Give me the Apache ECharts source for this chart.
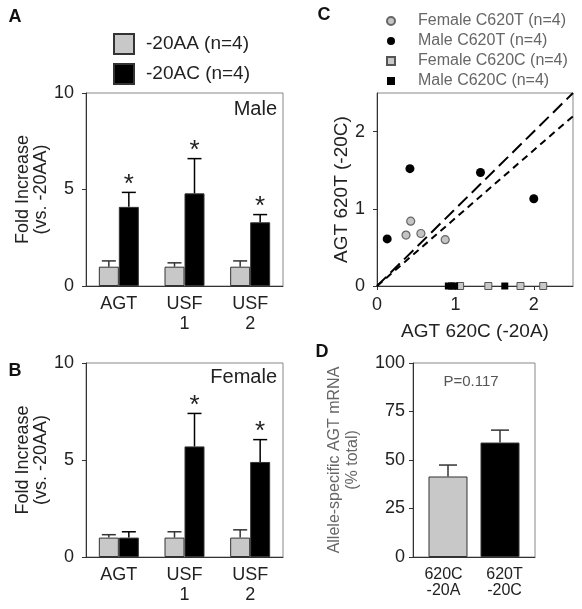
<!DOCTYPE html>
<html><head><meta charset="utf-8">
<script src="https://cdn.jsdelivr.net/npm/echarts@6/dist/echarts.min.js"></script>
<style>html,body{margin:0;padding:0;background:#fff}#c{width:582px;height:609px}</style>
</head><body><div id="c"></div><script>
// ---- data ----
const genes = ['AGT', 'USF\n1', 'USF\n2'];
const maleAA = [1.0, 1.0, 1.0];
const maleAAsem = [0.3, 0.2, 0.3];
const maleAC = [4.1, 4.8, 3.3];
const maleACsem = [0.75, 1.8, 0.4];
const maleACsig = [1, 1, 1];
const femAA = [1.0, 1.0, 1.0];
const femAAsem = [0.15, 0.3, 0.4];
const femAC = [1.0, 5.7, 4.9];
const femACsem = [0.3, 1.7, 1.15];
const femACsig = [0, 1, 1];
const femC620T = [[0.37, 0.66], [0.43, 0.84], [0.56, 0.68], [0.87, 0.60]];
const maleC620T = [[0.13, 0.61], [0.42, 1.52], [1.32, 1.47], [2.0, 1.13]];
const femC620C = [[1.06, 0], [1.42, 0], [1.83, 0], [2.12, 0]];
const maleC620C = [[0.91, 0], [0.95, 0], [0.99, 0], [1.63, 0]];
const identityLine = [[0, 0], [2.5, 2.5]];
const fitLine = [[0, 0], [2.5, 2.2]];
const alleles = ['620C\n-20A', '620T\n-20C'];
const allele20A = [41.5, '-'];
const allele20Asem = [5.9, 0];
const allele20C = ['-', 59];
const allele20Csem = [0, 6.4];
const pText = 'P=0.117';

// ---- styles ----
const FF = '"Liberation Sans", Arial, sans-serif';
const GRAY = '#c8c8c8';
const BLACK = '#000';
const axisLine = { lineStyle: { color: '#333', width: 1 } };
const tick = { show: true, length: 4, inside: false, lineStyle: { color: '#333' } };
const gridStyle = { show: true, borderColor: '#888', borderWidth: 1, backgroundColor: 'transparent', containLabel: false };

function errSeries(gi, means, sems, sigs, offset, cap, color) {
  const data = [];
  means.forEach((m, i) => { if (m !== '-') data.push([i, m, m + sems[i], sigs ? sigs[i] : 0]); });
  return {
    type: 'custom', xAxisIndex: gi, yAxisIndex: gi, z: 5, silent: true,
    data: data,
    renderItem(params, api) {
      const b = api.coord([api.value(0), api.value(1)]);
      const t = api.coord([api.value(0), api.value(2)]);
      const x = b[0] + offset;
      const ch = [
        { type: 'line', shape: { x1: x, y1: b[1], x2: x, y2: t[1] }, style: { stroke: color, lineWidth: 1.5 } },
        { type: 'line', shape: { x1: x - cap / 2, y1: t[1], x2: x + cap / 2, y2: t[1] }, style: { stroke: color, lineWidth: 1.5 } }
      ];
      if (api.value(3)) ch.push({ type: 'text', style: { text: '*', x: x, y: t[1] - 8, align: 'center', verticalAlign: 'middle', textAlign: 'center', textVerticalAlign: 'middle', fontSize: 26, fontFamily: FF, fill: '#222' } });
      return { type: 'group', children: ch };
    }
  };
}

function foldY(gi) {
  return {
    gridIndex: gi, type: 'value', min: 0, max: 10, interval: 5,
    axisLine: Object.assign({ show: true }, axisLine), axisTick: tick, splitLine: { show: false },
    axisLabel: { fontSize: 18, color: '#222', fontFamily: FF, margin: 12 },
    name: 'Fold Increase\n(vs. -20AA)', nameLocation: 'middle', nameGap: 36, nameRotate: 90,
    nameTextStyle: { fontSize: 18, lineHeight: 18, color: '#222', fontFamily: FF }
  };
}
function geneX(gi) {
  return {
    gridIndex: gi, type: 'category', data: genes,
    axisLine: axisLine, axisTick: { show: false },
    axisLabel: { fontSize: 18, lineHeight: 20, color: '#222', fontFamily: FF, margin: 8 }
  };
}
function bar(gi, name, data, color) {
  return { type: 'bar', name: name, xAxisIndex: gi, yAxisIndex: gi, data: data, barWidth: 20, barGap: '0%',
    itemStyle: { color: color, borderColor: '#333', borderWidth: 1 } };
}

const option = {
  animation: false,
  textStyle: { fontFamily: FF },
  grid: [
    Object.assign({ left: 86, top: 93, width: 197, height: 193 }, gridStyle),
    Object.assign({ left: 86, top: 363, width: 197, height: 194 }, gridStyle),
    Object.assign({ left: 377, top: 93, width: 196, height: 193 }, gridStyle),
    Object.assign({ left: 413, top: 363, width: 122, height: 194 }, gridStyle)
  ],
  xAxis: [
    geneX(0), geneX(1),
    { gridIndex: 2, type: 'value', min: 0, max: 2.5, interval: 1,
      axisLine: axisLine, axisTick: tick, splitLine: { show: false },
      axisLabel: { fontSize: 18, color: '#222', fontFamily: FF, margin: 10, showMaxLabel: false },
      name: 'AGT 620C (-20A)', nameLocation: 'middle', nameGap: 36,
      nameTextStyle: { fontSize: 19, color: '#222', fontFamily: FF } },
    { gridIndex: 3, type: 'category', data: alleles,
      axisLine: axisLine, axisTick: { show: false },
      axisLabel: { fontSize: 16, lineHeight: 16, color: '#222', fontFamily: FF, margin: 10 } }
  ],
  yAxis: [
    foldY(0), foldY(1),
    { gridIndex: 2, type: 'value', min: 0, max: 2.5, interval: 1,
      axisLine: Object.assign({ show: true }, axisLine), axisTick: tick, splitLine: { show: false },
      axisLabel: { fontSize: 18, color: '#222', fontFamily: FF, margin: 12, showMaxLabel: false },
      name: 'AGT 620T (-20C)', nameLocation: 'middle', nameGap: 25, nameRotate: 90,
      nameTextStyle: { fontSize: 19, color: '#222', fontFamily: FF } },
    { gridIndex: 3, type: 'value', min: 0, max: 100, interval: 25,
      axisLine: Object.assign({ show: true }, axisLine), axisTick: tick, splitLine: { show: false },
      axisLabel: { fontSize: 18, color: '#222', fontFamily: FF, margin: 8 },
      name: 'Allele-specific AGT mRNA\n(% total)', nameLocation: 'middle', nameGap: 51, nameRotate: 90,
      nameTextStyle: { fontSize: 16, lineHeight: 18, color: '#666', fontFamily: FF } }
  ],
  legend: [
    { left: 113, top: 33, orient: 'vertical', padding: 0, itemWidth: 20, itemHeight: 20, itemGap: 8,
      selectedMode: false, icon: 'rect',
      data: ['-20AA (n=4)', '-20AC (n=4)'],
      textStyle: { fontSize: 19, color: '#222', fontFamily: FF, padding: [0, 0, 0, 7] } },
    { left: 386, top: 13, orient: 'vertical', padding: 0, itemWidth: 8, itemHeight: 8, itemGap: 4,
      selectedMode: false,
      data: [{ name: 'Female C620T (n=4)', icon: 'circle' }, { name: 'Male C620T (n=4)', icon: 'circle' },
             { name: 'Female C620C (n=4)', icon: 'rect' }, { name: 'Male C620C (n=4)', icon: 'rect' }],
      textStyle: { fontSize: 16, lineHeight: 16, color: '#666', fontFamily: FF, padding: [0, 0, 0, 18] } }
  ],
  series: [
    bar(0, '-20AA (n=4)', maleAA, GRAY),
    bar(0, '-20AC (n=4)', maleAC, BLACK),
    errSeries(0, maleAA, maleAAsem, null, -10, 14, '#333'),
    errSeries(0, maleAC, maleACsem, maleACsig, 10, 14, '#000'),
    bar(1, '-20AA (n=4)', femAA, GRAY),
    bar(1, '-20AC (n=4)', femAC, BLACK),
    errSeries(1, femAA, femAAsem, null, -10, 14, '#333'),
    errSeries(1, femAC, femACsem, femACsig, 10, 14, '#000'),
    { type: 'line', xAxisIndex: 2, yAxisIndex: 2, data: identityLine, symbol: 'none', silent: true, z: 3,
      lineStyle: { color: '#000', width: 2, type: [13, 6] } },
    { type: 'line', xAxisIndex: 2, yAxisIndex: 2, data: fitLine, symbol: 'none', silent: true, z: 3,
      lineStyle: { color: '#000', width: 2, type: [7, 5] } },
    { type: 'scatter', name: 'Female C620T (n=4)', xAxisIndex: 2, yAxisIndex: 2, data: femC620T, symbol: 'circle', symbolSize: 8, clip: false, z: 4,
      itemStyle: { color: '#c4c4c4', borderColor: '#666', borderWidth: 1.2, opacity: 1 } },
    { type: 'scatter', name: 'Male C620T (n=4)', xAxisIndex: 2, yAxisIndex: 2, data: maleC620T, symbol: 'circle', symbolSize: 9, clip: false, z: 4,
      itemStyle: { color: '#000', opacity: 1 } },
    { type: 'scatter', name: 'Female C620C (n=4)', xAxisIndex: 2, yAxisIndex: 2, data: femC620C, symbol: 'rect', symbolSize: 7, clip: false, z: 4,
      itemStyle: { color: '#c8c8c8', borderColor: '#555', borderWidth: 1, opacity: 1 } },
    { type: 'scatter', name: 'Male C620C (n=4)', xAxisIndex: 2, yAxisIndex: 2, data: maleC620C, symbol: 'rect', symbolSize: 7, clip: false, z: 4,
      itemStyle: { color: '#000', opacity: 1 } },
    // panel D: black series first so it sits left in its slot; gray second sits right
    { type: 'bar', xAxisIndex: 3, yAxisIndex: 3, barWidth: 39, barGap: '-77%', data: allele20C,
      itemStyle: { color: BLACK, borderColor: '#333', borderWidth: 1 } },
    { type: 'bar', xAxisIndex: 3, yAxisIndex: 3, barWidth: 39, barGap: '-77%', data: allele20A,
      itemStyle: { color: GRAY, borderColor: '#333', borderWidth: 1 } },
    errSeries(3, allele20A, allele20Asem, null, 4.5, 18, '#333'),
    errSeries(3, allele20C, allele20Csem, null, -4.5, 18, '#333')
  ],
  graphic: [
    { type: 'text', x: 15, y: 17, style: { text: 'A', align: 'center', verticalAlign: 'middle', textAlign: 'center', textVerticalAlign: 'middle', fontSize: 18, fontWeight: 'bold', fontFamily: FF, fill: '#111' } },
    { type: 'text', x: 15, y: 371, style: { text: 'B', align: 'center', verticalAlign: 'middle', textAlign: 'center', textVerticalAlign: 'middle', fontSize: 18, fontWeight: 'bold', fontFamily: FF, fill: '#111' } },
    { type: 'text', x: 324, y: 15, style: { text: 'C', align: 'center', verticalAlign: 'middle', textAlign: 'center', textVerticalAlign: 'middle', fontSize: 18, fontWeight: 'bold', fontFamily: FF, fill: '#111' } },
    { type: 'text', x: 322, y: 352, style: { text: 'D', align: 'center', verticalAlign: 'middle', textAlign: 'center', textVerticalAlign: 'middle', fontSize: 18, fontWeight: 'bold', fontFamily: FF, fill: '#111' } },
    { type: 'text', x: 277, y: 109, style: { text: 'Male', align: 'right', verticalAlign: 'middle', textAlign: 'right', textVerticalAlign: 'middle', fontSize: 20, fontFamily: FF, fill: '#222' } },
    { type: 'text', x: 277, y: 377, style: { text: 'Female', align: 'right', verticalAlign: 'middle', textAlign: 'right', textVerticalAlign: 'middle', fontSize: 20, fontFamily: FF, fill: '#222' } },
    { type: 'text', x: 471, y: 382, style: { text: pText, align: 'center', verticalAlign: 'middle', textAlign: 'center', textVerticalAlign: 'middle', fontSize: 15, fontFamily: FF, fill: '#555' } }
  ]
};
const chart = echarts.init(document.getElementById('c'), null, { renderer: 'canvas' });
chart.setOption(option);
</script></body></html>
